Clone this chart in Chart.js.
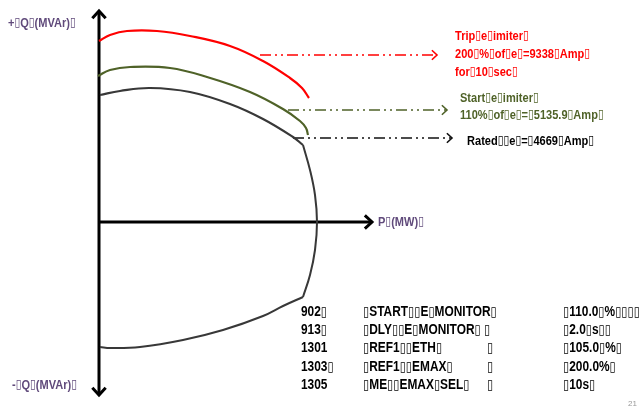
<!DOCTYPE html>
<html>
<head>
<meta charset="utf-8">
<script src="https://cdn.jsdelivr.net/npm/chart.js@4.4.0/dist/chart.umd.js"></script>
<style>
  html, body { margin: 0; padding: 0; background: #fff; }
  #wrap { width: 641px; height: 410px; }
</style>
</head>
<body>
<div id="wrap"><canvas id="myChart" width="641" height="410"></canvas></div>
<script>
// P (MW) / Q (MVAr) in drawing units, origin at the axis crossing
const B = '\u25AF'; // the missing-glyph boxes seen in the source slide

// Trip Ie limiter curve (red)
const tripP = [0, 0.11, 0.28, 0.58, 0.91, 1.31, 1.64, 1.91, 2.03, 2.10];
const tripQ = [1.81, 1.87, 1.91, 1.91, 1.86, 1.76, 1.61, 1.44, 1.34, 1.24];

// Start Ie limiter curve (green)
const startP = [-0.01, 0.11, 0.31, 0.71, 1.08, 1.51, 1.84, 2.01, 2.07, 2.09];
const startQ = [1.46, 1.52, 1.55, 1.54, 1.45, 1.30, 1.13, 1.01, 0.94, 0.87];

// Rated capability curve (black) - top, right arc, bottom
const capTopP = [0.01, 0.21, 0.51, 0.91, 1.31, 1.64, 1.94, 2.04];
const capTopQ = [1.27, 1.31, 1.34, 1.30, 1.18, 1.03, 0.85, 0.77];
const capArcP = [2.04, 2.11, 2.16, 2.18, 2.16, 2.11, 2.04];
const capArcQ = [0.77, 0.52, 0.27, 0, -0.28, -0.53, -0.75];
const capBotP = [2.04, 1.84, 1.64, 1.24, 0.84, 0.41, 0.11, 0.01];
const capBotQ = [-0.75, -0.84, -0.94, -1.08, -1.18, -1.25, -1.26, -1.25];

// axes
const qAxisQ = [-1.73, 2.11];
const pAxisP = [0, 2.73];

// dash-dot pointer lines: [fromP, toP] and level Q
const tripPointerP = [1.61, 3.38];
const tripPointerQ = 1.67;
const startPointerP = [1.89, 3.48];
const startPointerQ = 1.12;
const ratedPointerP = [1.94, 3.53];
const ratedPointerQ = 0.84;

// labels
const tripLabel = ['Trip' + B + 'e' + B + 'imiter' + B, '200' + B + '%' + B + 'of' + B + 'e' + B + '=9338' + B + 'Amp' + B, 'for' + B + '10' + B + 'sec' + B];
const startLabel = ['Start' + B + 'e' + B + 'imiter' + B, '110%' + B + 'of' + B + 'e' + B + '=' + B + '5135.9' + B + 'Amp' + B];
const ratedLabel = ['Rated' + B + B + 'e' + B + '=' + B + '4669' + B + 'Amp' + B];
const qPosLabel = '+' + B + 'Q' + B + '(MVAr)' + B;
const qNegLabel = '-' + B + 'Q' + B + '(MVAr)' + B;
const pLabel = 'P' + B + '(MW)' + B;

// relay settings table
const paramCodes = ['902' + B, '913' + B, '1301', '1303' + B, '1305'];
const paramNames = [B + 'START' + B + B + 'E' + B + 'MONITOR' + B, B + 'DLY' + B + B + 'E' + B + 'MONITOR' + B + ' ' + B, B + 'REF1' + B + B + 'ETH' + B, B + 'REF1' + B + B + 'EMAX' + B, B + 'ME' + B + B + 'EMAX' + B + 'SEL' + B];
const paramGaps = ['', '', B, B, B];
const paramValues = [B + '110.0' + B + '%' + B + B + B + B + B, B + '2.0' + B + 's' + B + B, B + '105.0' + B + '%' + B, B + '200.0%' + B, B + '10s' + B];
const pageNo = '21';

const zip = (xs, ys) => xs.map((x, i) => ({ x: x, y: ys[i] }));
const hline = (xs, y) => xs.map(x => ({ x: x, y: y }));

const RED = '#ff0000';
const GREEN = '#4f6228';
const PURPLE = '#604a7b';
const FONT = '"Liberation Sans", "DejaVu Sans", sans-serif';

const dashDot = [11, 4, 2, 4, 2, 4];

function curve(data, color, width, tension) {
    return { data: data, borderColor: color, borderWidth: width, showLine: true, pointRadius: 0, tension: tension, fill: false };
}

const datasets = [
    curve(zip(tripP, tripQ), RED, 2.2, 0.4),
    curve(zip(startP, startQ), GREEN, 2.2, 0.4),
    curve(zip(capTopP, capTopQ), '#383838', 2.2, 0.4),
    curve(zip(capArcP, capArcQ), '#383838', 2, 0.4),
    curve(zip(capBotP, capBotQ), '#383838', 2, 0.4),
    Object.assign(curve(qAxisQ.map(q => ({ x: 0, y: q })), '#000', 3, 0), { arrowStart: 7, arrowEnd: 7 }),
    Object.assign(curve(hline(pAxisP, 0), '#000', 3, 0), { arrowEnd: 7 }),
    Object.assign(curve(hline(tripPointerP, tripPointerQ), RED, 1.6, 0), { borderDash: dashDot, arrowEnd: 5 }),
    Object.assign(curve(hline(startPointerP, startPointerQ), GREEN, 1.6, 0), { borderDash: dashDot, arrowEnd: 5 }),
    Object.assign(curve(hline(ratedPointerP, ratedPointerQ), '#111', 1.6, 0), { borderDash: dashDot, arrowEnd: 5 })
];

// open chevron arrow heads at dataset ends
const arrowHeads = {
    id: 'arrowHeads',
    afterDatasetsDraw(chart) {
        const ctx = chart.ctx;
        chart.data.datasets.forEach((ds, i) => {
            const pts = chart.getDatasetMeta(i).data;
            const head = (tip, from, size) => {
                const a = Math.atan2(tip.y - from.y, tip.x - from.x);
                ctx.beginPath();
                ctx.moveTo(tip.x - size * Math.cos(a - 0.75), tip.y - size * Math.sin(a - 0.75));
                ctx.lineTo(tip.x, tip.y);
                ctx.lineTo(tip.x - size * Math.cos(a + 0.75), tip.y - size * Math.sin(a + 0.75));
                ctx.stroke();
            };
            ctx.save();
            ctx.strokeStyle = ds.borderColor;
            ctx.lineWidth = ds.borderWidth;
            ctx.lineJoin = 'miter';
            ctx.setLineDash([]);
            if (ds.arrowEnd) head(pts[pts.length - 1], pts[pts.length - 2], ds.arrowEnd * 1.4);
            if (ds.arrowStart) head(pts[0], pts[1], ds.arrowStart * 1.4);
            ctx.restore();
        });
    }
};

// text drawn a bit condensed (the slide used Calibri); box glyphs set apart
function drawRich(ctx, text, x, y, size, color) {
    ctx.save();
    ctx.translate(x, y);
    ctx.scale(0.85, 1);
    ctx.fillStyle = color;
    let cx = 0;
    text.split(/(\u25AF)/).forEach(part => {
        if (!part) return;
        if (part === B) {
            ctx.font = 'bold ' + (size * 0.95) + 'px ' + FONT;
            ctx.fillText(part, cx, 0);
            cx += ctx.measureText(part).width;
        } else {
            ctx.font = 'bold ' + size + 'px ' + FONT;
            ctx.fillText(part, cx, 0);
            cx += ctx.measureText(part).width;
        }
    });
    ctx.restore();
}

// annotation text and settings table
const slideText = {
    id: 'slideText',
    afterDraw(chart) {
        const ctx = chart.ctx;
        const xs = chart.scales.x, ys = chart.scales.y;
        const px = v => xs.getPixelForValue(v), py = v => ys.getPixelForValue(v);
        const lines = (arr, x, y, step, color) => arr.forEach((t, i) => drawRich(ctx, t, x, y + i * step, 13, color));
        ctx.save();
        ctx.textBaseline = 'middle';
        ctx.textAlign = 'left';

        lines(tripLabel, px(tripPointerP[1]) + 18, py(tripPointerQ) - 19, 18, RED);
        lines(startLabel, px(startPointerP[1]) + 13, py(startPointerQ) - 12, 17, GREEN);
        lines(ratedLabel, px(ratedPointerP[1]) + 15, py(ratedPointerQ) + 3, 17, '#000');

        drawRich(ctx, qPosLabel, 8, py(qAxisQ[1]) + 12, 13, PURPLE);
        drawRich(ctx, qNegLabel, 12, py(qAxisQ[0]) - 10, 13, PURPLE);
        drawRich(ctx, pLabel, px(pAxisP[1]) + 6, py(0), 13, PURPLE);

        paramCodes.forEach((c, i) => {
            const y = 312 + i * 18.3;
            drawRich(ctx, c, 301, y, 14, '#000');
            drawRich(ctx, paramNames[i], 363, y, 14, '#000');
            if (paramGaps[i]) drawRich(ctx, paramGaps[i], 487, y, 14, '#000');
            drawRich(ctx, paramValues[i], 563, y, 14, '#000');
        });

        ctx.font = '8px ' + FONT;
        ctx.fillStyle = '#999';
        ctx.fillText(pageNo, 628, 404);
        ctx.restore();
    }
};

new Chart(document.getElementById('myChart'), {
    type: 'scatter',
    data: { datasets: datasets },
    options: {
        responsive: false,
        animation: false,
        layout: { padding: 0 },
        plugins: { legend: { display: false }, tooltip: { enabled: false } },
        scales: {
            x: { type: 'linear', display: false, min: -0.99, max: 5.42 },
            y: { type: 'linear', display: false, min: -1.88, max: 2.22 }
        }
    },
    plugins: [arrowHeads, slideText]
});
</script>
</body>
</html>
